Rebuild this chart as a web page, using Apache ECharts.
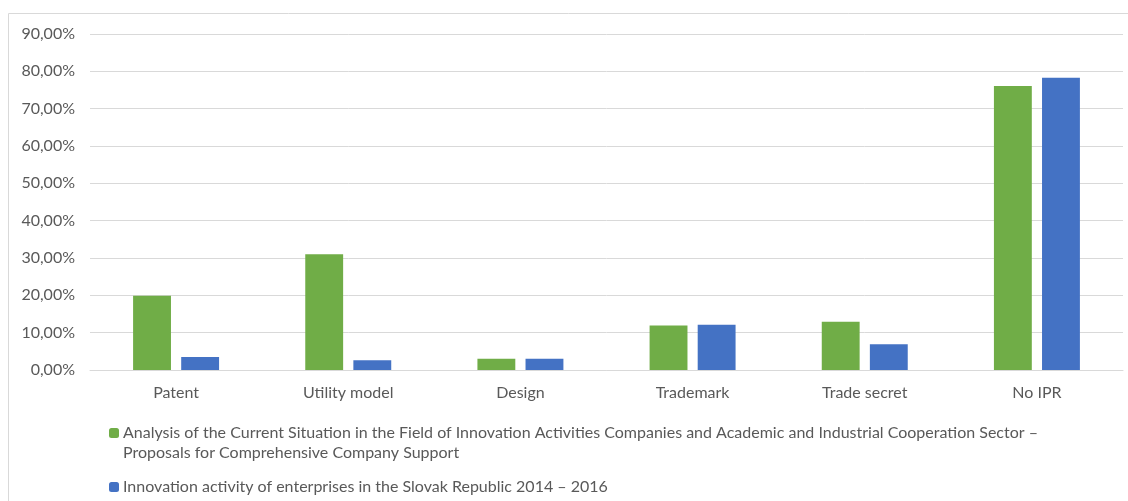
<!DOCTYPE html>
<html>
<head>
<meta charset="utf-8">
<script src="https://cdn.jsdelivr.net/npm/echarts@6/dist/echarts.min.js"></script>
<style>
  html, body { margin: 0; padding: 0; background: #fff; }
  #ipr { width: 1128px; height: 501px; }
</style>
</head>
<body>
<div id="ipr"></div>
<script>
var categories = ['Patent', 'Utility model', 'Design', 'Trademark', 'Trade secret', 'No IPR'];
var analysisValues = [19.9, 31.0, 3.0, 11.9, 12.9, 76.1];
var slovakValues = [3.5, 2.6, 3.0, 12.1, 6.9, 78.3];
var seriesNames = [
  'Analysis of the Current Situation in the Field of Innovation Activities Companies and Academic and Industrial Cooperation Sector –',
  'Innovation activity of enterprises in the Slovak Republic 2014 – 2016'
];
var secondLine = 'Proposals for Comprehensive Company Support';

var font = 'Lato, sans-serif';
var textColor = '#595959';
var fs = 16;

// one legend per series so the wrapped first entry keeps its icon on line 1
function legendBox(name, top) {
  return {
    left: 104,
    top: top,
    itemWidth: 10,
    itemHeight: 10,
    itemGap: 0,
    textStyle: { color: textColor, fontSize: fs, fontFamily: font, padding: [0, 0, 0, -1] },
    data: [name]
  };
}

var option = {
  animation: false,
  textStyle: { fontFamily: font },
  grid: { left: 90, right: 5, top: 34, bottom: 131 },
  legend: [legendBox(seriesNames[0], 420), legendBox(seriesNames[1], 474)],
  graphic: [
    {
      type: 'rect',
      shape: { x: 8.5, y: 13.5, width: 1200, height: 600 },
      style: { fill: 'none', stroke: '#d9d9d9', lineWidth: 1 },
      silent: true
    },
    {
      type: 'text',
      left: 123,
      top: 445,
      style: { text: secondLine, fill: textColor, font: fs + 'px ' + font }
    }
  ],
  xAxis: {
    type: 'category',
    data: categories,
    axisLine: { lineStyle: { color: '#d9d9d9', width: 1 } },
    axisTick: { show: false },
    axisLabel: { color: textColor, fontSize: fs, margin: 15 }
  },
  yAxis: {
    type: 'value',
    min: 0,
    max: 90,
    interval: 10,
    axisLine: { show: false },
    axisTick: { show: false },
    splitLine: { lineStyle: { color: '#d9d9d9', width: 1 } },
    axisLabel: {
      color: textColor,
      fontSize: fs,
      margin: 15,
      formatter: function (v) { return v.toFixed(2).replace('.', ',') + '%'; }
    }
  },
  series: [
    {
      name: seriesNames[0],
      type: 'bar',
      data: analysisValues,
      barWidth: '22%',
      barGap: '27%',
      itemStyle: { color: '#70ad47' }
    },
    {
      name: seriesNames[1],
      type: 'bar',
      data: slovakValues,
      barWidth: '22%',
      itemStyle: { color: '#4472c4' }
    }
  ]
};

echarts.init(document.getElementById('ipr')).setOption(option);
</script>
</body>
</html>
